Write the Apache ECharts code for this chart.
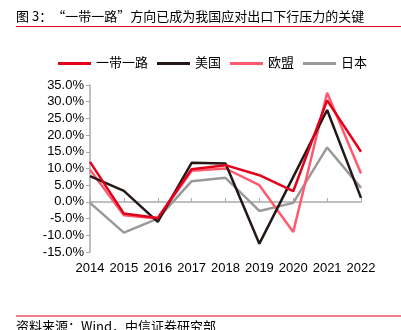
<!DOCTYPE html>
<html><head><meta charset="utf-8">
<script src="https://cdn.jsdelivr.net/npm/echarts@6/dist/echarts.min.js"></script>
<style>html,body{margin:0;padding:0;background:#fff}#c{width:401px;height:330px}</style>
</head><body><div id="c"></div>
<script>
var years = ['2014','2015','2016','2017','2018','2019','2020','2021','2022'];
var beltRoad = [12.0, -3.5, -4.8, 9.8, 11.0, 8.0, 3.2, 30.4, 15.0];
var usa = [7.7, 3.3, -6.0, 11.7, 11.5, -12.5, 7.5, 27.5, 1.2];
var eu = [9.6, -4.0, -5.0, 9.3, 10.0, 5.0, -9.0, 32.7, 8.5];
var japan = [-0.3, -9.2, -5.0, 6.2, 7.2, -2.7, -0.3, 16.3, 4.2];
var names = ['一带一路','美国','欧盟','日本'];
var colors = ['#e2001a','#231815','#ff5a6e','#999999'];
var font = '"Liberation Sans", Arial, "Noto Sans CJK SC", sans-serif';

var chart = echarts.init(document.getElementById('c'), null, {renderer:'canvas'});
function mk(i, data){
  return {name:names[i], type:'line', data:data, symbol:'none', xAxisIndex:0,
    lineStyle:{width:2.5, color:colors[i]}, itemStyle:{color:colors[i]}, z: 10-i};
}
chart.setOption({
  animation:false,
  textStyle:{fontFamily:font},
  legend:{top:52, left:53, itemWidth:33, itemHeight:3, itemGap:9,
    icon:'rect', textStyle:{fontSize:13, color:'#000', fontFamily:font},
    data:names},
  grid:{left:90, right:40, top:85, bottom:78, containLabel:false},
  xAxis:[{type:'category', data:years, boundaryGap:false, position:'bottom',
      axisLine:{show:false, onZero:false}, axisTick:{show:false},
      axisLabel:{fontSize:13, color:'#000', margin:10, interval:0, hideOverlap:false, fontFamily:font}},
    {type:'category', data:years, boundaryGap:false,
      axisLine:{show:true, onZero:true, lineStyle:{color:'#aaaaaa', width:1.5}},
      axisTick:{show:true, inside:false, length:4, interval:0, alignWithLabel:true, lineStyle:{color:'#aaaaaa'}},
      axisLabel:{show:false}}],
  yAxis:{type:'value', min:-15, max:35, interval:5,
    axisLine:{show:true, lineStyle:{color:'#aaaaaa', width:1.5}},
    axisTick:{show:true, length:4, lineStyle:{color:'#aaaaaa'}},
    splitLine:{show:false},
    axisLabel:{fontSize:13, color:'#000', margin:6, fontFamily:font,
      formatter:function(v){return v.toFixed(1)+'%';}}},
  series:[mk(0,beltRoad), mk(1,usa), mk(2,eu), mk(3,japan)],
  graphic:[
    {type:'text', left:16, top:10, style:{text:'图 3：“一带一路”方向已成为我国应对出口下行压力的关键',
      font:'13px "Noto Sans CJK SC", sans-serif', fill:'#000'}},
    {type:'rect', shape:{x:16, y:26, width:385, height:1}, style:{fill:'#e2001a'}},
    {type:'rect', shape:{x:16, y:315.5, width:385, height:1}, style:{fill:'#e2001a'}},
    {type:'text', left:16, top:320, style:{text:'资料来源：Wind，中信证券研究部',
      font:'13px "Noto Sans CJK SC", sans-serif', fill:'#000'}}
  ]
});
</script></body></html>
